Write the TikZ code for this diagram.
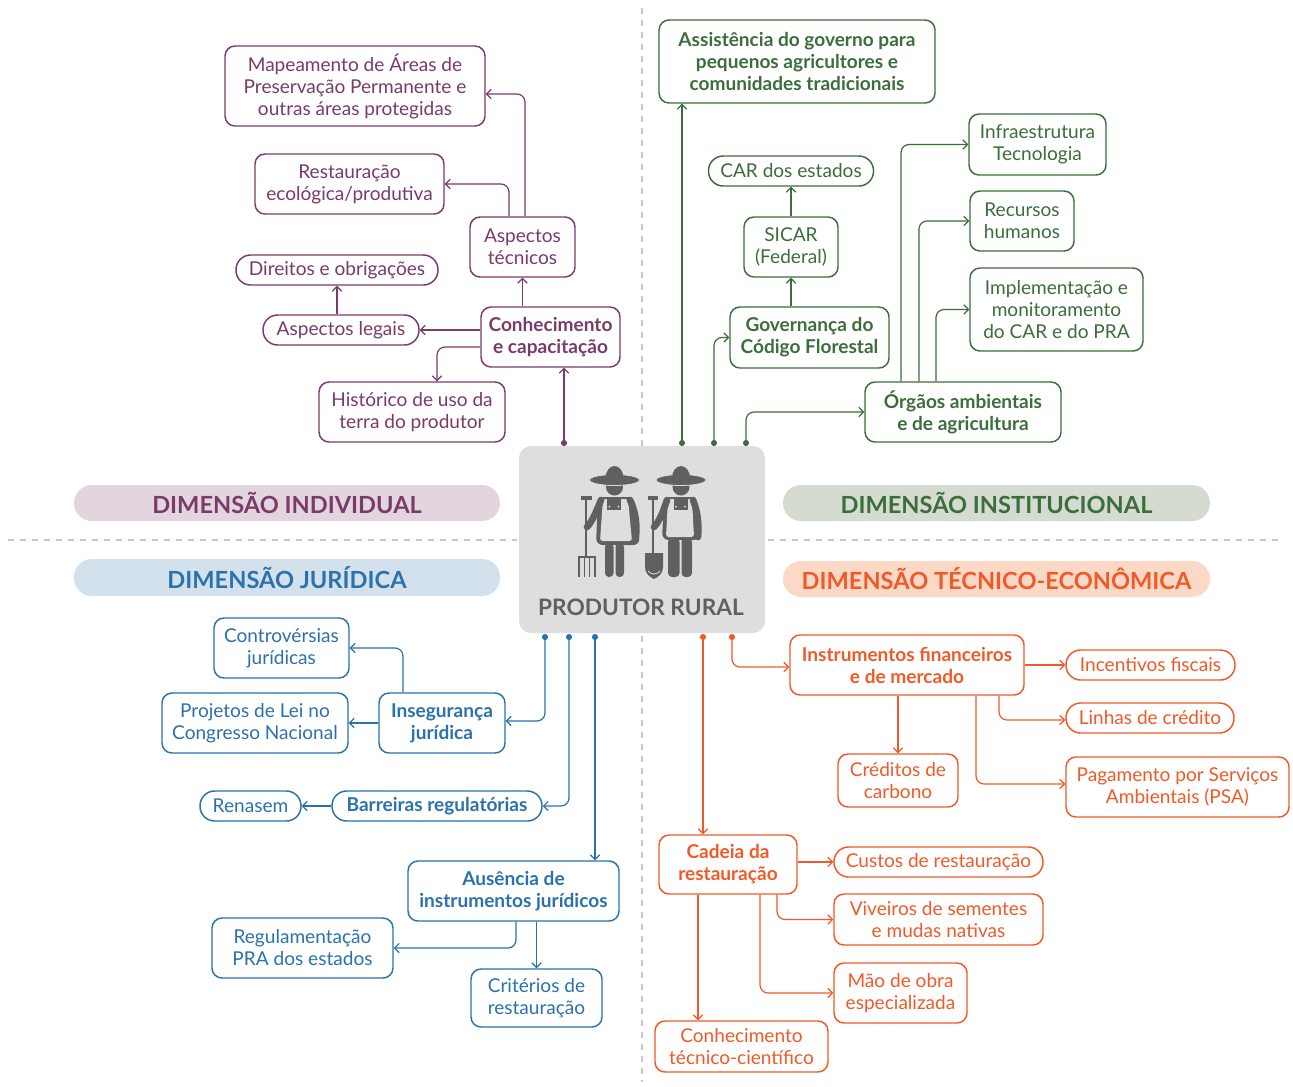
\documentclass[tikz,border=0pt]{standalone}
\usepackage{fontspec}
\setmainfont{Lato}
\usetikzlibrary{arrows.meta,calc}

\definecolor{indiv}{HTML}{7A3B6B}
\definecolor{indivbg}{HTML}{E2D5DD}
\definecolor{inst}{HTML}{3B6E3B}
\definecolor{instbg}{HTML}{D5DBD1}
\definecolor{jurid}{HTML}{2B72AD}
\definecolor{juridbg}{HTML}{D3E1EC}
\definecolor{tecec}{HTML}{F05A28}
\definecolor{tececbg}{HTML}{FCD9C6}
\definecolor{prodbg}{HTML}{DFDEDF}
\definecolor{prodfg}{HTML}{606060}
\definecolor{sepgray}{HTML}{C8C8C8}

\tikzset{
  box/.style={draw, line width=1.1pt, rounded corners=7.5pt, align=center, inner sep=0pt,
    fill=white, font=\fontsize{14.3}{16.5}\selectfont},
  pill/.style={box, rounded corners=11pt},
  boldtext/.style={font=\fontsize{14.3}{16.5}\selectfont\bfseries},
  boxsize/.style 2 args={minimum width=#1*0.75pt, minimum height=#2*0.75pt},
  indivbox/.style={draw=indiv, text=indiv},
  instbox/.style={draw=inst, text=inst},
  juridbox/.style={draw=jurid, text=jurid},
  tecbox/.style={draw=tecec, text=tecec},
  conn/.style={line width=0.9pt, rounded corners=6pt, -{Straight Barb[length=3.5pt,width=7pt]}},
  band/.style={rounded corners=13.5pt, inner sep=0pt, font=\fontsize{17.7}{20}\selectfont\bfseries},
  sepline/.style={sepgray, line width=1.8pt, dash pattern=on 4.5pt off 4.5pt},
}

\begin{document}
\begin{tikzpicture}[x=0.75pt, y=-0.75pt]
	\useasboundingbox[fill=white] (0,0) rectangle (1293,1086);

	% separators
	\draw[sepline] (8,540) -- (517,540);
	\draw[sepline] (768,540) -- (1278,540);
	\draw[sepline] (642,8) -- (642,446);
	\draw[sepline] (642,636) -- (642,1082);

	% bands
	\node[band, fill=indivbg, text=indiv, boxsize={426}{36}] (bindiv) at (287,503) {DIMENSÃO INDIVIDUAL};
	\node[band, fill=juridbg, text=jurid, boxsize={426}{37}] (bjurid) at (287,577.5) {DIMENSÃO JURÍDICA};
	\node[band, fill=instbg, text=inst, boxsize={427}{36}] (binst) at (996.5,503) {DIMENSÃO INSTITUCIONAL};
	\node[band, fill=tececbg, text=tecec, boxsize={427}{36}] (btec) at (996.5,579) {DIMENSÃO TÉCNICO-ECONÔMICA};

	% produtor rural
	\node[fill=prodbg, rounded corners=9pt, boxsize={246}{187}] (prod) at (642,539.5) {};
	\node[text=prodfg, font=\fontsize{17}{20}\selectfont\bfseries] (prodlabel) at (641,607) {PRODUTOR RURAL};

	\begin{scope}[prodfg]
		% left figure with pitchfork
		\fill[rounded corners=5] (598,497) -- (634,497) -- (640,545) -- (596,545) -- cycle;
		\fill[rounded corners=3] (605,543) rectangle (613.5,577);
		\fill[rounded corners=3] (615.5,543) rectangle (624,577);
		\fill[prodbg, rounded corners=2] (603,499) -- (628,499) -- (632,541) -- (600,541) -- cycle;
		\fill (607,497) rectangle (621,510);
		\draw[line width=5pt, line cap=round] (630,500) .. controls (636,512) and (637,525) .. (636,537);
		\draw[line width=5pt, line cap=round] (601,500) .. controls (596,512) and (592,522) .. (587,527);
		\draw[line width=2pt] (586,498) -- (586,557);
		\draw[line width=2.4pt] (581,498) -- (592,498);
		\draw[line width=1pt] (579,577) -- (579,557) -- (595,557) -- (595,577);
		\draw[line width=1pt] (584.5,557) -- (584.5,577) (589.5,557) -- (589.5,577);
		\fill (614.5,487) circle[radius=8.5];
		\fill[draw=prodbg, line width=0.6pt] (614.5,480) ellipse[x radius=25, y radius=5.5];
		\fill (605.5,478) arc[start angle=180, end angle=360, x radius=9, y radius=12] -- cycle;
		\fill[prodbg] (609.5,506.5) circle[radius=1] (618.5,506.5) circle[radius=1];
		% right figure with shovel
		\fill[rounded corners=5] (664,497) -- (696,497) -- (700,540) -- (662,540) -- cycle;
		\fill[rounded corners=3] (668,538) rectangle (679.5,577);
		\fill[rounded corners=3] (681.5,538) rectangle (692,577);
		\fill[prodbg, rounded corners=2] (668,499) -- (692,499) -- (694,537) -- (666,537) -- cycle;
		\fill (673.5,497) rectangle (687.5,510);
		\draw[line width=5pt, line cap=round] (693,500) .. controls (698,512) and (699,525) .. (698,537);
		\draw[line width=5pt, line cap=round] (667,500) .. controls (663,512) and (659,522) .. (654,527);
		\draw[line width=2pt] (653,498) -- (653,555);
		\draw[line width=2.4pt] (648,498) -- (658,498);
		\fill (645,553) -- (663,553) -- (663,567) .. controls (663,574) and (658,577) .. (654,579)
			.. controls (650,577) and (645,574) .. (645,567) -- cycle;
		\draw[prodbg, line width=0.6pt] (648,571) .. controls (651,575) and (657,575) .. (660,571);
		\fill (681,487) circle[radius=8.5];
		\fill[draw=prodbg, line width=0.6pt] (681,480) ellipse[x radius=25, y radius=5.5];
		\fill (672,478) arc[start angle=180, end angle=360, x radius=9, y radius=12] -- cycle;
		\fill[prodbg] (676,506.5) circle[radius=1] (685,506.5) circle[radius=1];
	\end{scope}

	% start points on the central box
	\foreach \n/\x/\c in {pi1/564/indiv, pg1/682/inst, pg2/714/inst, pg3/746/inst} {
		\coordinate (\n) at (\x,443);
		\fill[\c] (\n) circle[radius=2.3pt];
	}
	\foreach \n/\x/\c in {pb1/545/jurid, pb2/569/jurid, pb3/595/jurid, po1/703/tecec, po2/732/tecec} {
		\coordinate (\n) at (\x,637);
		\fill[\c] (\n) circle[radius=2.3pt];
	}

	% dimensao individual
	\node[box, indivbox, boxsize={260}{80}] (mapa) at (355,86) {Mapeamento de Áreas de\\Preservação Permanente e\\outras áreas protegidas};
	\node[box, indivbox, boxsize={189}{60}] (rest) at (349.5,184) {Restauração\\ecológica/produtiva};
	\node[box, indivbox, boxsize={105}{60}] (asp) at (522.5,247) {Aspectos\\técnicos};
	\node[pill, indivbox, boxsize={202}{30}] (dir) at (337,270) {Direitos e obrigações};
	\node[pill, indivbox, boxsize={156}{30}] (legais) at (341,330) {Aspectos legais};
	\node[box, indivbox, boldtext, boxsize={139}{60}] (conh) at (550.5,337) {Conhecimento\\e capacitação};
	\node[box, indivbox, boxsize={186}{60}] (hist) at (412,412) {Histórico de uso da\\terra do produtor};

	\draw[conn, indiv] (pi1) -- (pi1 |- conh.south);
	\draw[conn, indiv] (conh.north -| asp.south) -- (asp.south);
	\draw[conn, indiv] (legais.east -| conh.west) -- (legais.east);
	\draw[conn, indiv] ($(conh.west)+(0,10)$) -| ($(hist.north)+(25,0)$);
	\draw[conn, indiv] (legais.north -| dir.south) -- (dir.south);
	\draw[conn, indiv] ($(asp.north)+(-13.5,0)$) |- (rest.east);
	\draw[conn, indiv] ($(asp.north)+(2.5,0)$) |- ($(mapa.east)+(0,8)$);

	% dimensao institucional
	\node[box, instbox, boldtext, boxsize={276}{83}] (assist) at (797,61.5) {Assistência do governo para\\pequenos agricultores e\\comunidades tradicionais};
	\node[pill, instbox, boxsize={165}{30}] (car) at (791,171) {CAR dos estados};
	\node[box, instbox, boxsize={94}{60}] (sicar) at (791,247) {SICAR\\(Federal)};
	\node[box, instbox, boldtext, boxsize={159}{61}] (gov) at (809.5,337.5) {Governança do\\Código Florestal};
	\node[box, instbox, boxsize={137}{61}] (infra) at (1037.5,144.5) {Infraestrutura\\Tecnologia};
	\node[box, instbox, boxsize={104}{60}] (rh) at (1022,221) {Recursos\\humanos};
	\node[box, instbox, boxsize={173}{83}] (impl) at (1056.5,309.5) {Implementação e\\monitoramento\\do CAR e do PRA};
	\node[box, instbox, boldtext, boxsize={196}{60}] (org) at (963,412) {Órgãos ambientais\\e de agricultura};

	\draw[conn, inst] (pg1) -- (pg1 |- assist.south);
	\draw[conn, inst] (pg2) |- (gov.west);
	\draw[conn, inst] (pg3) |- (org.west);
	\draw[conn, inst] (gov.north -| sicar.south) -- (sicar.south);
	\draw[conn, inst] (sicar.north) -- (car.south);
	\draw[conn, inst] ($(org.north)+(-62,0)$) |- (infra.west);
	\draw[conn, inst] ($(org.north)+(-44,0)$) |- (rh.west);
	\draw[conn, inst] ($(org.north)+(-27,0)$) |- (impl.west);

	% dimensao juridica
	\node[box, juridbox, boxsize={135}{60}] (contr) at (281.5,648) {Controvérsias\\jurídicas};
	\node[box, juridbox, boxsize={186}{60}] (pl) at (255,723) {Projetos de Lei no\\Congresso Nacional};
	\node[box, juridbox, boldtext, boxsize={126}{60}] (inseg) at (442,723) {Insegurança\\jurídica};
	\node[pill, juridbox, boxsize={101}{30}] (renasem) at (250.5,806) {Renasem};
	\node[pill, juridbox, boldtext, boxsize={210}{30}] (barr) at (437,806) {Barreiras regulatórias};
	\node[box, juridbox, boldtext, boxsize={211}{60}] (ausen) at (513.5,891) {Ausência de\\instrumentos jurídicos};
	\node[box, juridbox, boxsize={181}{60}] (reg) at (302.5,948) {Regulamentação\\PRA dos estados};
	\node[box, juridbox, boxsize={131}{58}] (crit) at (536.5,998) {Critérios de\\restauração};

	\draw[conn, jurid] (pb1) |- ($(inseg.east)+(0,-2)$);
	\draw[conn, jurid] (pb2) |- (barr.east);
	\draw[conn, jurid] (pb3) -- (pb3 |- ausen.north);
	\draw[conn, jurid] ($(inseg.north)+(-39,0)$) |- (contr.east);
	\draw[conn, jurid] (pl.east -| inseg.west) -- (pl.east);
	\draw[conn, jurid] (barr.west) -- (renasem.east);
	\draw[conn, jurid] ($(ausen.south)+(2.5,0)$) |- (reg.east);
	\draw[conn, jurid] (ausen.south -| crit.north) -- (crit.north);

	% dimensao tecnico-economica
	\node[box, tecbox, boldtext, boxsize={234}{60}] (instr) at (907,665) {Instrumentos financeiros\\e de mercado};
	\node[pill, tecbox, boxsize={169}{30}] (incent) at (1150.5,665) {Incentivos fiscais};
	\node[pill, tecbox, boxsize={168}{30}] (linhas) at (1150,718) {Linhas de crédito};
	\node[box, tecbox, boxsize={120}{53}] (cred) at (898,780.5) {Créditos de\\carbono};
	\node[box, tecbox, boxsize={223}{60}] (psa) at (1177.5,787) {Pagamento por Serviços\\Ambientais (PSA)};
	\node[box, tecbox, boldtext, boxsize={138}{59}] (cadeia) at (728,864.5) {Cadeia da\\restauração};
	\node[pill, tecbox, boxsize={209}{30}] (custos) at (938.5,862) {Custos de restauração};
	\node[box, tecbox, boxsize={209}{51}] (viv) at (938.5,919.5) {Viveiros de sementes\\e mudas nativas};
	\node[box, tecbox, boxsize={133}{60}] (mao) at (900.5,993) {Mão de obra\\especializada};
	\node[box, tecbox, boxsize={173}{51}] (ctec) at (741.5,1046.5) {Conhecimento\\técnico-científico};

	\draw[conn, tecec] (po1) -- (po1 |- cadeia.north);
	\draw[conn, tecec] (po2) |- ($(instr.west)+(0,2)$);
	\draw[conn, tecec] (instr.east) -- (incent.west);
	\draw[conn, tecec] ($(instr.south)+(92,0)$) |- ($(linhas.west)+(0,2)$);
	\draw[conn, tecec] (instr.south -| cred.north) -- (cred.north);
	\draw[conn, tecec] ($(instr.south)+(69,0)$) |- ($(psa.west)+(0,-3)$);
	\draw[conn, tecec] (custos.west -| cadeia.east) -- (custos.west);
	\draw[conn, tecec] ($(cadeia.south)+(49,0)$) |- (viv.west);
	\draw[conn, tecec] ($(cadeia.south)+(32,0)$) |- (mao.west);
	\draw[conn, tecec] ($(cadeia.south)+(-30,0)$) coordinate (cfoot) -- (cfoot |- ctec.north);
\end{tikzpicture}
\end{document}
